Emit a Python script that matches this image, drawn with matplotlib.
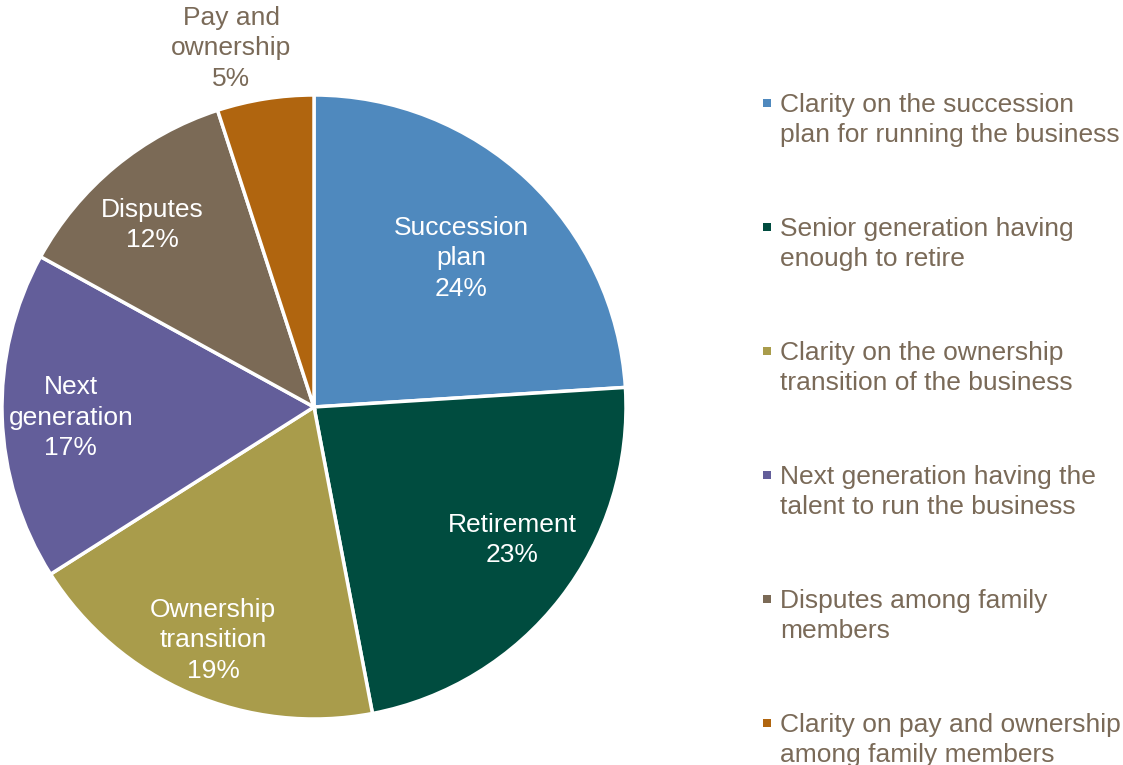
import numpy as np
import matplotlib
matplotlib.use("Agg")
import matplotlib.pyplot as plt
from matplotlib.patches import Rectangle

plt.rcParams['font.family'] = ['Liberation Sans', 'DejaVu Sans']

# Survey shares (percent)
slice_labels = ["Succession\nplan", "Retirement", "Ownership\ntransition",
                "Next\ngeneration", "Disputes", "Pay and\nownership"]
shares = [24, 23, 19, 17, 12, 5]
legend_labels = [
    "Clarity on the succession\nplan for running the business",
    "Senior generation having\nenough to retire",
    "Clarity on the ownership\ntransition of the business",
    "Next generation having the\ntalent to run the business",
    "Disputes among family\nmembers",
    "Clarity on pay and ownership\namong family members",
]
colors = ["#4F89BE", "#004C3F", "#A99C4B", "#635E9A", "#7B6A56", "#B0650F"]
text_color = "#7A6A58"

# label placement: radius factor and angular nudge per slice
label_r = [0.67, 0.765, 0.815, 0.78, 0.78, 1.18]
label_nudge = [-1.5, 4.0, 0.0, 0.7, 2.0, 4.0]
label_colors = ["white", "white", "white", "white", "white", text_color]

FS = 19
LS = 1.33

W, H = 1123, 765
fig = plt.figure(figsize=(W / 100, H / 100), dpi=100)
cx, cy, R = 314, 407, 312
ax = fig.add_axes([(cx - R) / W, (H - cy - R) / H, 2 * R / W, 2 * R / H])

wedges, _ = ax.pie(shares, colors=colors, startangle=90, counterclock=False,
                   radius=1.0, center=(0, 0),
                   wedgeprops=dict(edgecolor="white", linewidth=2.5))
ax.set_xlim(-1, 1)
ax.set_ylim(-1, 1)
ax.set_aspect("equal")
ax.axis("off")

total = sum(shares)
cum = 0
for lab, v, r, nd, tc in zip(slice_labels, shares, label_r, label_nudge, label_colors):
    mid = 90 - (cum + v / 2) / total * 360 + nd
    cum += v
    x, y = r * np.cos(np.radians(mid)), r * np.sin(np.radians(mid))
    ax.text(x, y, f"{lab}\n{v}%", ha="center", va="center", fontsize=FS,
            color=tc, linespacing=LS, clip_on=False)

# legend column
leg_x_text = 780
leg_y0, leg_dy = 103, 124
for i, (lab, c) in enumerate(zip(legend_labels, colors)):
    yc = leg_y0 + i * leg_dy
    fig.add_artist(Rectangle((763 / W, (H - yc - 4) / H), 8 / W, 8 / H,
                             transform=fig.transFigure, facecolor=c,
                             edgecolor="none"))
    fig.text(leg_x_text / W, (H - yc + 10) / H, lab, ha="left", va="top",
             fontsize=FS, color=text_color, linespacing=1.3,
             transform=fig.transFigure)

fig.savefig("out.png", dpi=100, facecolor="white")
